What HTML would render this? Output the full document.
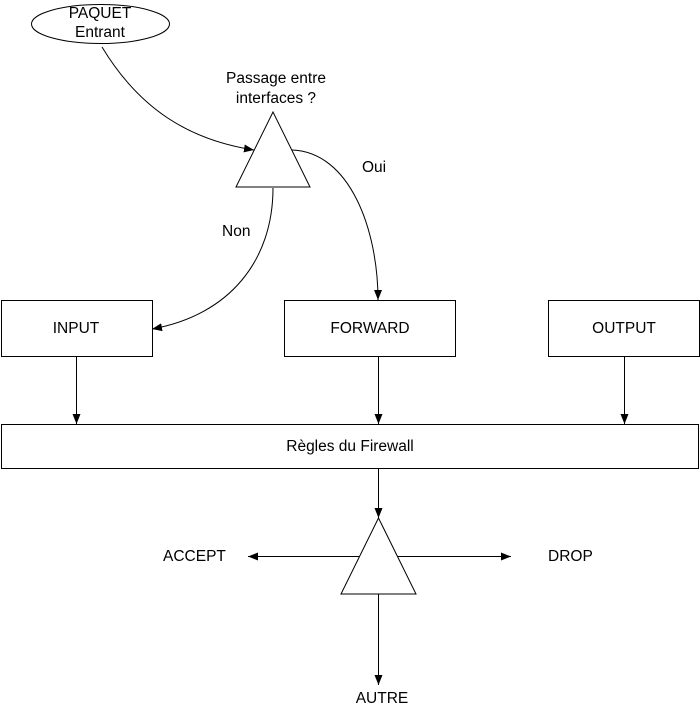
<!DOCTYPE html>
<html><head><meta charset="utf-8"><style>
html,body{margin:0;padding:0;background:#fff;}
svg{display:block;}
text{font-family:"Liberation Sans",sans-serif;font-size:15.5px;fill:#000;}
</style></head><body>
<svg width="700" height="709" viewBox="0 0 700 709" xmlns="http://www.w3.org/2000/svg">
<defs>
<marker id="a" markerWidth="10" markerHeight="8" refX="10" refY="4" orient="auto" markerUnits="userSpaceOnUse">
<path d="M0,0 L10,4 L0,8 z" fill="#000"/>
</marker>
</defs>
<g fill="none" stroke="#000" stroke-width="1">
<ellipse cx="100.5" cy="24" rx="69" ry="19.5"/>
<polygon points="273,112 236,187 310,187"/>
<path d="M102,47 C140,110 190,140 254,150" marker-end="url(#a)"/>
<path d="M292,150 C350,152 378,230 378,300" marker-end="url(#a)"/>
<path d="M273,188 C273,260 230,315 152,329" marker-end="url(#a)"/>
<rect x="1.5" y="300.5" width="151" height="56"/>
<rect x="284.5" y="300.5" width="171" height="56"/>
<rect x="548.5" y="300.5" width="151" height="56"/>
<rect x="1.5" y="424.5" width="697" height="44"/>
<path d="M76.5,357 V424" marker-end="url(#a)"/>
<path d="M378.5,357 V424" marker-end="url(#a)"/>
<path d="M624.5,357 V424" marker-end="url(#a)"/>
<path d="M378.5,469 V518" marker-end="url(#a)"/>
<polygon points="378.5,518 341,594 416,594"/>
<path d="M359,556.5 H248" marker-end="url(#a)"/>
<path d="M398,556.5 H511" marker-end="url(#a)"/>
<path d="M378.5,594 V685" marker-end="url(#a)"/>
</g>
<text x="100" y="18" text-anchor="middle">PAQUET</text>
<text x="100" y="37" text-anchor="middle">Entrant</text>
<text x="276" y="83" text-anchor="middle">Passage entre</text>
<text x="276" y="103" text-anchor="middle">interfaces ?</text>
<text x="362" y="172">Oui</text>
<text x="222" y="236">Non</text>
<text x="76" y="333" text-anchor="middle">INPUT</text>
<text x="370" y="333" text-anchor="middle">FORWARD</text>
<text x="624" y="333" text-anchor="middle">OUTPUT</text>
<text x="350" y="451" text-anchor="middle">Règles du Firewall</text>
<text x="163" y="561">ACCEPT</text>
<text x="548" y="561">DROP</text>
<text x="382" y="703" text-anchor="middle">AUTRE</text>
</svg>
</body></html>
